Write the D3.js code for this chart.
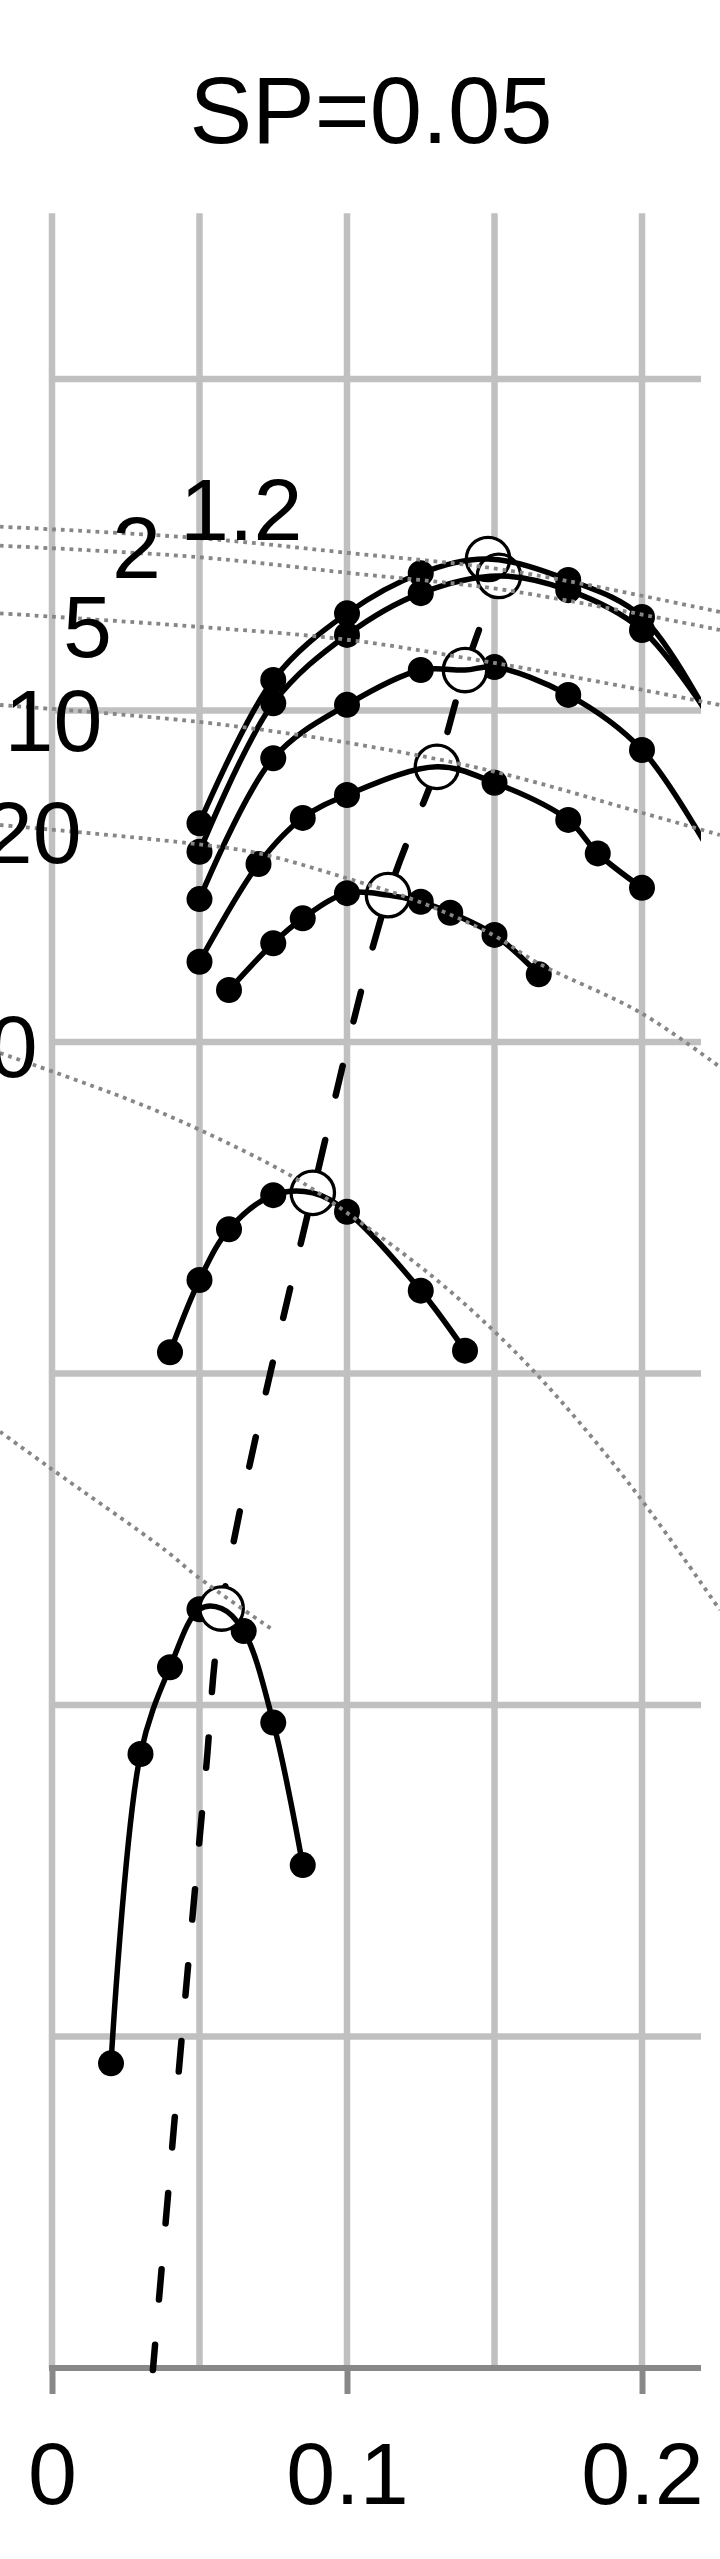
<!DOCTYPE html>
<html><head><meta charset="utf-8">
<script src="https://cdn.jsdelivr.net/npm/d3@7/dist/d3.min.js"></script>
<style>html,body{margin:0;padding:0;background:#fff;} svg{display:block;}</style>
</head><body>
<svg id="chart" width="720" height="2559"></svg>
<script>
// ---------- data ----------
const titleText = "SP=0.05";
const xTicks = [0, 0.1, 0.2];
const xTickLabels = ["0", "0.1", "0.2"];
const xGridVals = [0, 0.05, 0.1, 0.15, 0.2];
const yGridVals = [1, 2, 3, 4, 5, 6];

// measured points (black dots) of each curve
const c1x = [0.05, 0.075, 0.1, 0.125, 0.175, 0.2, 0.225];
const c1y = [4.660, 5.092, 5.293, 5.414, 5.394, 5.282, 4.941];
const c2x = [0.05, 0.075, 0.1, 0.125, 0.175, 0.2, 0.225];
const c2y = [4.574, 5.022, 5.228, 5.354, 5.363, 5.243, 4.953];
const c3x = [0.05, 0.075, 0.1, 0.125, 0.15, 0.175, 0.2, 0.225];
const c3y = [4.431, 4.856, 5.017, 5.122, 5.131, 5.047, 4.881, 4.543];
const c4x = [0.05, 0.07, 0.085, 0.1, 0.15, 0.175, 0.185, 0.2];
const c4y = [4.242, 4.537, 4.676, 4.745, 4.782, 4.670, 4.569, 4.465];
const c5x = [0.06, 0.075, 0.085, 0.1, 0.125, 0.135, 0.15, 0.165];
const c5y = [4.157, 4.298, 4.373, 4.449, 4.423, 4.390, 4.323, 4.204];
const c6x = [0.04, 0.05, 0.06, 0.075, 0.1, 0.125, 0.14];
const c6y = [3.064, 3.282, 3.435, 3.538, 3.488, 3.250, 3.069];
const c7x = [0.02, 0.03, 0.04, 0.05, 0.065, 0.075, 0.085];
const c7y = [0.919, 1.852, 2.114, 2.289, 2.223, 1.947, 1.517];

// optimum (open circle) of each curve
const optX = [0.1478, 0.1515, 0.1400, 0.1305, 0.1139, 0.0884, 0.0575];
const optY = [5.457, 5.406, 5.122, 4.830, 4.443, 3.545, 2.291];
// continuation of the optimum path below the last optimum
const tailX = [0.0521, 0.0451, 0.0342];
const tailY = [1.795, 1.110, -0.006];

// dotted iso-lines
const iso1x = [-0.0176, 0.0492, 0.1007, 0.1536, 0.2264];
const iso1y = [5.5545, 5.5204, 5.4751, 5.4238, 5.2971];
const iso2x = [-0.0176, 0.0492, 0.1007, 0.1536, 0.2264];
const iso2y = [5.4971, 5.4630, 5.4148, 5.3635, 5.2428];
const iso3x = [-0.0176, 0.0492, 0.1007, 0.15, 0.2003, 0.2264];
const iso3y = [5.2932, 5.2528, 5.2127, 5.1433, 5.0618, 5.0166];
const iso4x = [-0.0176, 0.0492, 0.1007, 0.15, 0.2003, 0.2264];
const iso4y = [5.0166, 4.9662, 4.9020, 4.8154, 4.6908, 4.6244];
const iso5x = [-0.0176, 0.0458, 0.0695, 0.0997, 0.1244, 0.1495, 0.1647, 0.1997, 0.2264];
const iso5y = [4.6546, 4.6003, 4.5701, 4.4947, 4.4232, 4.3228, 4.2383, 4.0875, 3.9246];
const iso6x = [-0.0176, 0.0264, 0.0502, 0.0817, 0.1020, 0.1292, 0.1519, 0.1722, 0.1986, 0.2264];
const iso6y = [3.9668, 3.8250, 3.7345, 3.5928, 3.4721, 3.2911, 3.1101, 2.9201, 2.6335, 2.2866];
const iso7x = [-0.0176, -0.0005, 0.0383, 0.0493, 0.0749];
const iso7y = [2.8244, 2.7140, 2.4676, 2.3870, 2.2262];

const isoLabels = ["1.2", "2", "5", "10", "20", "50"];
const isoLabelX = [0.0434, 0.0203, 0.0037, -0.0161, -0.0231, -0.0380];
const isoLabelY = [5.5143, 5.3997, 5.1614, 4.8778, 4.5400, 3.8944];

// ---------- build ----------
const zip = (xs, ys) => xs.map((v, i) => ({x: v, y: ys[i]}));
const curves = [[c1x,c1y],[c2x,c2y],[c3x,c3y],[c4x,c4y],[c5x,c5y],[c6x,c6y],[c7x,c7y]]
  .map(([xs, ys], i) => {
    const pts = zip(xs, ys);
    const opt = {x: optX[i], y: optY[i]};
    const linePts = pts.concat([opt]).sort((a, b) => a.x - b.x);
    return {pts, opt, linePts};
  });
const optPath = zip(optX.slice(1), optY.slice(1)).concat(zip(tailX, tailY));
const isoLines = [[iso1x,iso1y],[iso2x,iso2y],[iso3x,iso3y],[iso4x,iso4y],[iso5x,iso5y],[iso6x,iso6y],[iso7x,iso7y]]
  .map(([xs, ys]) => zip(xs, ys));

const svg = d3.select("#chart");
const x = d3.scaleLinear().domain([0, 0.22]).range([52, 701]);
const y = d3.scaleLinear().domain([0, 6.5]).range([2368, 213.25]);

svg.append("rect").attr("width", 720).attr("height", 2559).attr("fill", "#fff");

svg.append("defs").append("clipPath").attr("id", "plotclip")
  .append("rect").attr("x", x(0)).attr("y", y(6.5)).attr("width", x(0.22) - x(0)).attr("height", y(0) - y(6.5));

const FONT = "'Liberation Sans', Arial, Helvetica, sans-serif";

// grid
const grid = svg.append("g").attr("stroke", "#c0c0c0").attr("stroke-width", 6.5);
grid.selectAll("line.v").data(xGridVals).join("line").attr("class", "v")
  .attr("x1", d => x(d)).attr("x2", d => x(d)).attr("y1", y(6.5)).attr("y2", y(0));
grid.selectAll("line.h").data(yGridVals).join("line").attr("class", "h")
  .attr("x1", x(0) - 3).attr("x2", x(0.22)).attr("y1", d => y(d)).attr("y2", d => y(d));

// x axis
const axis = d3.axisBottom(x).tickValues(xTicks).tickFormat((d, i) => xTickLabels[i])
  .tickSize(26).tickPadding(84);
const ax = svg.append("g").attr("transform", `translate(0,${y(0)})`).call(axis);
ax.select(".domain").attr("d", `M${x(0) - 3},0H${x(0.22)}`).attr("stroke", "#888").attr("stroke-width", 6);
ax.selectAll(".tick line").attr("stroke", "#888").attr("stroke-width", 6);
ax.selectAll(".tick text").attr("font-family", FONT).attr("font-size", 88).attr("fill", "#000")
  .attr("dy", null).attr("y", 136);

// optimum dashed path
const optLine = d3.line().x(d => x(d.x)).y(d => y(d.y)).curve(d3.curveCatmullRom.alpha(0.5));
const dashP = svg.append("path").datum(optPath).attr("d", optLine)
  .attr("fill", "none").attr("stroke", "#000").attr("stroke-width", 6.5)
  .attr("stroke-linecap", "round").attr("stroke-dasharray", "30.5 45.7");
// align dash phase with a dash start just below the last optimum
(function () {
  const node = dashP.node();
  const L = node.getTotalLength();
  const target = y(2.131);
  let lo = 0, hi = L;
  for (let k = 0; k < 40; k++) {
    const mid = (lo + hi) / 2;
    if (node.getPointAtLength(mid).y < target) lo = mid; else hi = mid;
  }
  const P = 30.5 + 45.7;
  dashP.attr("stroke-dashoffset", P - (lo % P));
})();

const plot = svg.append("g").attr("clip-path", "url(#plotclip)");

// dots
curves.forEach(c => {
  plot.append("g").selectAll("circle").data(c.pts).join("circle")
    .attr("cx", d => x(d.x)).attr("cy", d => y(d.y)).attr("r", 13).attr("fill", "#000");
});
// optimum circles: white fills first, then all outlines
const opts = curves.map(c => c.opt);
plot.append("g").selectAll("circle").data(opts).join("circle")
  .attr("cx", d => x(d.x)).attr("cy", d => y(d.y)).attr("r", 21.7).attr("fill", "#fff");
plot.append("g").selectAll("circle").data(opts).join("circle")
  .attr("cx", d => x(d.x)).attr("cy", d => y(d.y)).attr("r", 21.7)
  .attr("fill", "none").attr("stroke", "#000").attr("stroke-width", 3.3);
// curves
const cLine = d3.line().x(d => x(d.x)).y(d => y(d.y)).curve(d3.curveCatmullRom.alpha(0.5));
curves.forEach(c => {
  plot.append("path").datum(c.linePts).attr("d", cLine)
    .attr("fill", "none").attr("stroke", "#000").attr("stroke-width", 5.5).attr("stroke-linejoin", "round");
});

// dotted iso-lines
const isoLine = d3.line().x(d => x(d.x)).y(d => y(d.y)).curve(d3.curveCatmullRom.alpha(0.5));
svg.append("g").selectAll("path").data(isoLines).join("path")
  .attr("d", isoLine).attr("fill", "none").attr("stroke", "#868686")
  .attr("stroke-width", 3.8).attr("stroke-dasharray", "3.8 4.9");

// iso labels
svg.append("g").selectAll("text").data(isoLabels).join("text")
  .attr("x", (d, i) => x(isoLabelX[i])).attr("y", (d, i) => y(isoLabelY[i]))
  .attr("font-family", FONT).attr("font-size", 88).attr("fill", "#000").text(d => d);

// title
svg.append("text").attr("x", 371).attr("y", 143).attr("text-anchor", "middle")
  .attr("font-family", FONT).attr("font-size", 94).attr("fill", "#000").text(titleText);
</script>
</body></html>
